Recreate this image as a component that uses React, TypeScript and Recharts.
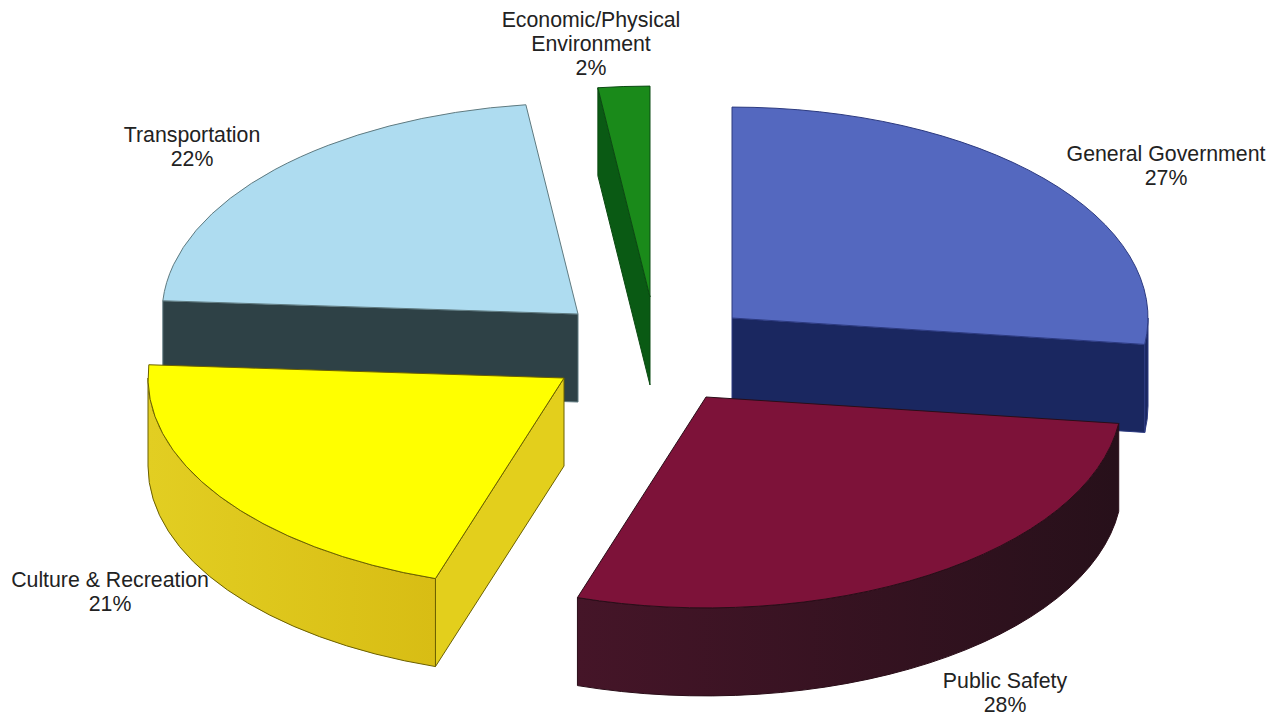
import React from "react";
import { PieChart, Pie } from "recharts";

const categories = [
  "General Government",
  "Economic/Physical Environment",
  "Transportation",
  "Culture & Recreation",
  "Public Safety",
];
const shares = [27, 2, 22, 21, 28];

const chartData = categories.map((name, i) => ({ name, value: shares[i] }));

// The slices run counter-clockwise starting with General Government,
// which also gives the back-to-front paint order the 3D look needs.
const START_ANGLE = -7.2;
const RADIUS = 416;
const SQUASH = 0.507;
const DEPTH = 88;
const CENTER_X = 640;
const CENTER_Y = 360;

interface SliceStyle {
  dx: number;
  dy: number;
  top: string;
  edge: string;
  face: string;
  wallFrom: string;
  wallTo: string;
}

const sliceStyles: Record<string, SliceStyle> = {
  "General Government": { dx: 92, dy: -42, top: "#5468bf", edge: "#2c3a80", face: "#1a2760", wallFrom: "#1a2760", wallTo: "#1a2760" },
  "Economic/Physical Environment": { dx: 10, dy: -63, top: "#1a8a1a", edge: "#0b4a12", face: "#0a5a14", wallFrom: "#0a5a14", wallTo: "#0a5a14" },
  Transportation: { dx: -62, dy: -46, top: "#aedcf0", edge: "#5f7a80", face: "#2e4146", wallFrom: "#2e4146", wallTo: "#2e4146" },
  "Culture & Recreation": { dx: -76, dy: 18, top: "#ffff00", edge: "#6b6000", face: "#e3cf1c", wallFrom: "#e2ce22", wallTo: "#d8bd14" },
  "Public Safety": { dx: 66, dy: 37, top: "#7d1239", edge: "#2a0d18", face: "#2a1018", wallFrom: "#451528", wallTo: "#27101a" },
};

const labelPositions: Record<string, { x: number; y: number; lines: string[] }> = {
  "General Government": { x: 1166, y: 161, lines: ["General Government"] },
  "Economic/Physical Environment": { x: 591, y: 27, lines: ["Economic/Physical", "Environment"] },
  Transportation: { x: 192, y: 142, lines: ["Transportation"] },
  "Culture & Recreation": { x: 110, y: 587, lines: ["Culture & Recreation"] },
  "Public Safety": { x: 1005, y: 688, lines: ["Public Safety"] },
};

const rad = (deg: number) => (deg * Math.PI) / 180;

// Flattened slice: the library's sector angles are projected on an ellipse and extruded
const Slice3D = (props: any) => {
  const { cx, cy, outerRadius, startAngle, endAngle, name } = props;
  const style = sliceStyles[name];
  const ox = cx + style.dx;
  const oy = cy + style.dy;
  const ry = outerRadius * SQUASH;
  const rim = (a: number, drop = 0) => ({
    x: ox + outerRadius * Math.cos(rad(a)),
    y: oy - ry * Math.sin(rad(a)) + drop,
  });
  const a0 = Math.min(startAngle, endAngle);
  const a1 = Math.max(startAngle, endAngle);
  const p0 = rim(a0);
  const p1 = rim(a1);
  const large = a1 - a0 > 180 ? 1 : 0;

  const topPath = `M${ox},${oy} L${p0.x},${p0.y} A${outerRadius},${ry} 0 ${large} 0 ${p1.x},${p1.y} Z`;

  const radialFace = (a: number) => {
    const p = rim(a);
    return `M${ox},${oy} L${p.x},${p.y} L${p.x},${p.y + DEPTH} L${ox},${oy + DEPTH} Z`;
  };

  // outer wall shows only along the front half of the ellipse
  const walls: string[] = [];
  [-180, 180].forEach((base) => {
    const lo = Math.max(a0, base);
    const hi = Math.min(a1, base + 180);
    if (hi > lo) {
      const a = rim(lo);
      const b = rim(hi);
      const a2 = rim(lo, DEPTH);
      const b2 = rim(hi, DEPTH);
      walls.push(
        `M${a.x},${a.y} A${outerRadius},${ry} 0 0 0 ${b.x},${b.y} L${b2.x},${b2.y} A${outerRadius},${ry} 0 0 1 ${a2.x},${a2.y} Z`
      );
    }
  });

  const gradientId = `wall-${categories.indexOf(name)}`;
  return (
    <g>
      <defs>
        <linearGradient id={gradientId} x1="0" y1="0" x2="1" y2="0">
          <stop offset="0%" stopColor={style.wallFrom} />
          <stop offset="100%" stopColor={style.wallTo} />
        </linearGradient>
      </defs>
      {Math.cos(rad(a0)) > 0.001 && (
        <path d={radialFace(a0)} fill={style.face} stroke={style.edge} strokeWidth={1} />
      )}
      {Math.cos(rad(a1)) < -0.001 && (
        <path d={radialFace(a1)} fill={style.face} stroke={style.edge} strokeWidth={1} />
      )}
      {walls.map((d, i) => (
        <path key={i} d={d} fill={`url(#${gradientId})`} stroke={style.edge} strokeWidth={1} />
      ))}
      <path d={topPath} fill={style.top} stroke={style.edge} strokeWidth={1} strokeLinejoin="round" />
    </g>
  );
};

const renderLabel = (props: any) => {
  const spot = labelPositions[props.name];
  return (
    <text
      x={spot.x}
      y={spot.y}
      textAnchor="middle"
      fontFamily="'Liberation Sans', Arial, sans-serif"
      fontSize={21.3}
      fill="#222"
    >
      {spot.lines.map((line, i) => (
        <tspan key={line} x={spot.x} y={spot.y + i * 24}>
          {line}
        </tspan>
      ))}
      <tspan x={spot.x} y={spot.y + spot.lines.length * 24}>
        {props.value}%
      </tspan>
    </text>
  );
};

export default function App() {
  return (
    <div style={{ position: "absolute", left: 0, top: 0, width: 1276, height: 719, background: "#fff" }}>
      <PieChart width={1276} height={719} margin={{ top: 0, right: 0, bottom: 0, left: 0 }}>
        <Pie
          data={chartData}
          dataKey="value"
          nameKey="name"
          cx={CENTER_X}
          cy={CENTER_Y}
          innerRadius={0}
          outerRadius={RADIUS}
          startAngle={START_ANGLE}
          endAngle={START_ANGLE + 360}
          shape={Slice3D}
          label={renderLabel}
          labelLine={false}
          isAnimationActive={false}
        />
      </PieChart>
    </div>
  );
}
